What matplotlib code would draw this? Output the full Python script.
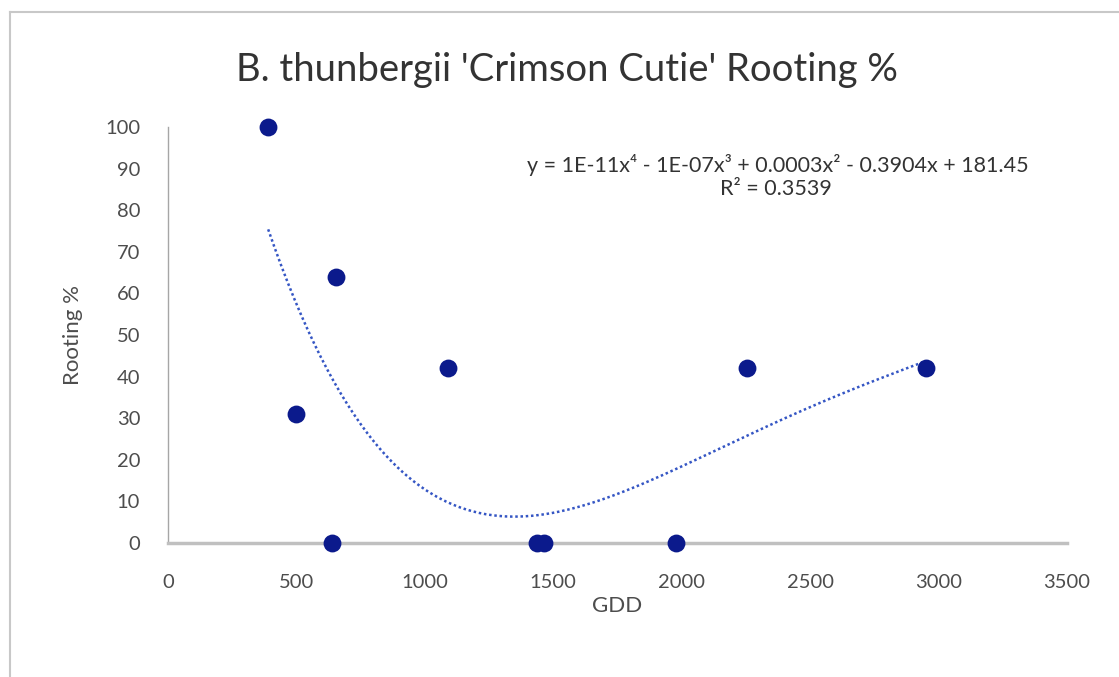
import matplotlib
matplotlib.use("Agg")
import matplotlib.pyplot as plt
from matplotlib.lines import Line2D
import numpy as np

# --- data ---
gdd = [390, 500, 638, 654, 1090, 1436, 1462, 1977, 2254, 2950]
rooting = [100, 31, 0, 64, 42, 0, 0, 0, 42, 42]

title = "B. thunbergii 'Crimson Cutie' Rooting %"
equation = "y = 1E-11x⁴ - 1E-07x³ + 0.0003x² - 0.3904x + 181.45"
r_squared = "R² = 0.3539"
x_ticks = [0, 500, 1000, 1500, 2000, 2500, 3000, 3500]
y_ticks = [0, 10, 20, 30, 40, 50, 60, 70, 80, 90, 100]

plt.rcParams["font.family"] = ["Lato", "DejaVu Sans"]

MARKER = "#0b1a8c"
TREND = "#3556c4"
TEXT = "#4d4d4d"

fig = plt.figure(figsize=(11.19, 6.77), dpi=100)
ax = fig.add_axes([168 / 1119, 1 - 543 / 677, 899 / 1119, 416 / 677])

# chart border (top and left edge visible in the crop)
fig.add_artist(Line2D([10 / 1119, 1.0], [1 - 12 / 677] * 2, color="#c8c8c8", lw=1.5))
fig.add_artist(Line2D([10 / 1119] * 2, [0.0, 1 - 12 / 677], color="#c8c8c8", lw=1.5))

# 4th-order polynomial trendline, as Excel does it
coef = np.polyfit(gdd, rooting, 4)
xs = np.linspace(min(gdd), max(gdd), 300)
ax.plot(xs, np.polyval(coef, xs), color=TREND, lw=1.8, linestyle=(0, (1, 1.1)), zorder=2)

ax.scatter(gdd, rooting, s=165, color=MARKER, zorder=3, clip_on=False, linewidths=0)

ax.set_xlim(0, 3500)
ax.set_ylim(0, 100)
ax.set_xticks(x_ticks)
ax.set_yticks(y_ticks)
ax.tick_params(length=0, labelsize=14.5, colors=TEXT)
ax.tick_params(axis="x", pad=22)
ax.tick_params(axis="y", pad=20)

for side in ("top", "right"):
    ax.spines[side].set_visible(False)
ax.spines["left"].set_color("#a6a6a6")
ax.spines["left"].set_linewidth(1.0)
ax.spines["bottom"].set_color("#c0c0c0")
ax.spines["bottom"].set_linewidth(2.5)

ax.set_xlabel("GDD", fontsize=16, color=TEXT, labelpad=4)
ax.set_ylabel("Rooting %", fontsize=16, color=TEXT, labelpad=16)

fig.text(567 / 1119, 1 - 70 / 677, title, ha="center", va="center", fontsize=27.5, color="#333333")

ax.text(2375, 90.8, equation, ha="center", va="center", fontsize=15.5, color="#333333")
ax.text(2365, 85.2, r_squared, ha="center", va="center", fontsize=15.5, color="#333333")

fig.savefig("out.png", dpi=100, facecolor="white")
